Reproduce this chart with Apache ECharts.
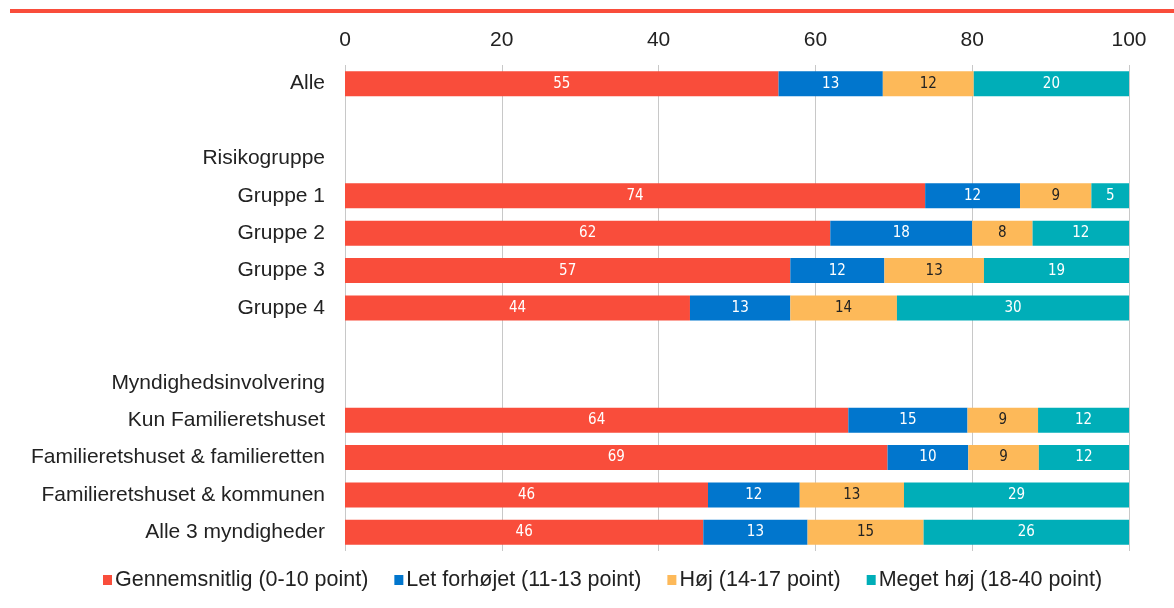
<!DOCTYPE html>
<html>
<head>
<meta charset="utf-8">
<script src="https://cdn.jsdelivr.net/npm/echarts@6/dist/echarts.min.js"></script>
<style>
  html, body { margin: 0; padding: 0; background: #fff; }
  #chart { width: 1174px; height: 608px; }
</style>
</head>
<body>
<div id="chart"></div>
<script>
// kategorier (tomme rækker = mellemrum)
var categories = ['Alle', ' ', 'Risikogruppe', 'Gruppe 1', 'Gruppe 2', 'Gruppe 3', 'Gruppe 4', '  ',
  'Myndighedsinvolvering', 'Kun Familieretshuset', 'Familieretshuset & familieretten',
  'Familieretshuset & kommunen', 'Alle 3 myndigheder'];

var seriesNames = ['Gennemsnitlig (0-10 point)', 'Let forhøjet (11-13 point)', 'Høj (14-17 point)', 'Meget høj (18-40 point)'];

var gennemsnitlig = [55.3, '-', '-', 74.0, 61.9, 56.8, 44.0, '-', '-', 64.2, 69.2, 46.3, 45.7];
var letForhoejet  = [13.3, '-', '-', 12.1, 18.1, 12.0, 12.8, '-', '-', 15.2, 10.3, 11.7, 13.3];
var hoej          = [11.6, '-', '-', 9.1, 7.7, 12.7, 13.6, '-', '-', 9.0, 9.0, 13.3, 14.8];
var megetHoej     = [19.8, '-', '-', 4.8, 12.3, 18.5, 29.6, '-', '-', 11.6, 11.5, 28.7, 26.2];

var tickLabels = [0, 20, 40, 60, 80, 100];

var colors = ['#F94D3B', '#0176CD', '#FDB959', '#00AEB8'];
var labelColors = ['#fff', '#fff', '#222', '#fff'];
var values = [gennemsnitlig, letForhoejet, hoej, megetHoej];

var chart = echarts.init(document.getElementById('chart'));

var series = values.map(function (d, i) {
  return {
    name: seriesNames[i],
    type: 'bar',
    stack: 'total',
    data: d,
    barWidth: 25,
    itemStyle: { color: colors[i] },
    label: {
      show: true,
      position: 'inside',
      color: labelColors[i],
      fontFamily: 'DejaVu Sans Condensed, Liberation Sans',
      fontSize: 15,
      formatter: function (p) { return Math.round(p.value); }
    }
  };
});

var option = {
  animation: false,
  color: colors,
  graphic: [{
    type: 'rect',
    shape: { x: 10, y: 9, width: 1164, height: 4 },
    style: { fill: '#F94D3B' }
  }],
  grid: { left: 345, right: 45, top: 65, bottom: 57 },
  legend: {
    bottom: 12,
    left: 98,
    itemWidth: 9,
    itemHeight: 10,
    itemGap: 26,
    icon: 'rect',
    textStyle: { fontFamily: 'Liberation Sans', fontSize: 21.5, color: '#222', padding: [0, 0, 0, -2] },
    data: seriesNames
  },
  xAxis: {
    type: 'value',
    position: 'top',
    min: tickLabels[0],
    max: tickLabels[tickLabels.length - 1],
    interval: 20,
    axisLine: { show: false },
    axisTick: { show: false },
    axisLabel: { fontFamily: 'Liberation Sans', fontSize: 21, color: '#222', margin: 14 },
    splitLine: { show: true, lineStyle: { color: '#c8c8c8', width: 1 } }
  },
  yAxis: {
    type: 'category',
    inverse: true,
    data: categories,
    axisLine: { show: false },
    axisTick: { show: false },
    axisLabel: { fontFamily: 'Liberation Sans', fontSize: 21, color: '#222', margin: 20 }
  },
  series: series
};

chart.setOption(option);
</script>
</body>
</html>
